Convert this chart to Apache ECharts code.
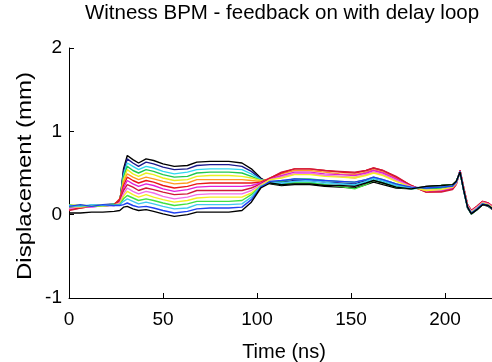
<!DOCTYPE html>
<html>
<head>
<meta charset="utf-8">
<script src="https://cdn.jsdelivr.net/npm/echarts@6/dist/echarts.min.js"></script>
<style>html,body{margin:0;padding:0;background:#fff}#c{width:492px;height:362px}</style>
</head>
<body>
<div id="c"></div>
<script>
var titleText = 'Witness BPM - feedback on with delay loop';
var xName = 'Time (ns)';
var yName = 'Displacement (mm)';
var xTicks = [0, 50, 100, 150, 200, 250];
var yTicks = [-1, 0, 1, 2];

var time = [0,6,12,18,24,27,
  29,31,34,37,41,45,50,56,63,68,75,85,92,97,102,
  107,113,120,128,136,144,152,158,162,167,174,182,190,198,204,206,208,210,212,214,217,220,223,226,232];

var black1 = [0.08,0.09,0.10,0.11,0.12,0.14, 0.55,0.71,0.66,0.62,0.67,0.65,0.61,0.58,0.59,0.63,0.64,0.64,0.62,0.55,0.44, 0.37,0.35,0.36,0.36,0.34,0.33,0.32,0.36,0.39,0.36,0.32,0.31,0.34,0.35,0.36,0.40,0.51,0.28,0.08,0.01,0.06,0.12,0.10,0.05,0.03];
var navy = [0.10,0.10,0.11,0.12,0.13,0.15, 0.52,0.67,0.62,0.58,0.63,0.61,0.57,0.54,0.55,0.59,0.60,0.60,0.58,0.52,0.43, 0.39,0.39,0.41,0.41,0.39,0.38,0.37,0.41,0.44,0.41,0.35,0.32,0.32,0.33,0.35,0.39,0.51,0.29,0.09,0.02,0.07,0.13,0.11,0.06,0.04];
var cyan1 = [0.09,0.11,0.10,0.12,0.12,0.16, 0.48,0.62,0.58,0.54,0.58,0.56,0.52,0.49,0.51,0.54,0.55,0.55,0.54,0.49,0.42, 0.39,0.37,0.39,0.39,0.37,0.37,0.36,0.39,0.42,0.39,0.34,0.31,0.32,0.34,0.35,0.39,0.51,0.29,0.09,0.01,0.06,0.13,0.11,0.06,0.04];
var green1 = [0.12,0.10,0.11,0.11,0.13,0.17, 0.45,0.58,0.53,0.50,0.54,0.52,0.48,0.45,0.46,0.50,0.51,0.51,0.50,0.46,0.41, 0.40,0.40,0.43,0.43,0.41,0.40,0.39,0.42,0.45,0.42,0.37,0.32,0.31,0.32,0.34,0.39,0.52,0.29,0.09,0.02,0.07,0.13,0.11,0.06,0.04];
var yellow1 = [0.11,0.12,0.10,0.12,0.12,0.16, 0.42,0.54,0.49,0.46,0.50,0.48,0.44,0.41,0.42,0.46,0.47,0.47,0.46,0.44,0.41, 0.42,0.46,0.49,0.49,0.47,0.46,0.45,0.48,0.51,0.48,0.41,0.34,0.29,0.30,0.32,0.37,0.52,0.31,0.11,0.04,0.09,0.15,0.13,0.08,0.06];
var orange = [0.07,0.09,0.11,0.11,0.12,0.18, 0.39,0.49,0.45,0.42,0.45,0.43,0.40,0.37,0.38,0.42,0.42,0.42,0.42,0.41,0.40, 0.43,0.49,0.53,0.53,0.51,0.49,0.48,0.51,0.54,0.51,0.44,0.35,0.28,0.28,0.31,0.37,0.53,0.31,0.11,0.05,0.10,0.15,0.13,0.08,0.06];
var red1 = [0.06,0.08,0.10,0.10,0.12,0.19, 0.35,0.45,0.41,0.38,0.41,0.39,0.35,0.32,0.34,0.37,0.38,0.38,0.38,0.38,0.39, 0.44,0.50,0.55,0.55,0.53,0.51,0.50,0.53,0.56,0.53,0.45,0.35,0.27,0.28,0.31,0.37,0.53,0.32,0.12,0.05,0.10,0.16,0.14,0.09,0.07];
var magenta = [0.08,0.09,0.09,0.11,0.11,0.15, 0.32,0.41,0.37,0.34,0.37,0.35,0.31,0.28,0.30,0.33,0.34,0.34,0.34,0.35,0.38, 0.43,0.47,0.51,0.51,0.49,0.48,0.47,0.50,0.53,0.50,0.43,0.34,0.28,0.29,0.32,0.37,0.53,0.31,0.11,0.04,0.09,0.15,0.13,0.08,0.06];
var red2 = [0.05,0.08,0.10,0.10,0.12,0.17, 0.29,0.36,0.33,0.29,0.32,0.30,0.27,0.24,0.25,0.29,0.29,0.29,0.29,0.32,0.37, 0.44,0.51,0.55,0.55,0.53,0.52,0.51,0.53,0.56,0.53,0.46,0.35,0.27,0.27,0.30,0.36,0.53,0.32,0.12,0.05,0.10,0.16,0.14,0.09,0.07];
var pink = [0.07,0.10,0.09,0.11,0.11,0.14, 0.25,0.32,0.28,0.25,0.28,0.26,0.22,0.19,0.21,0.24,0.25,0.25,0.25,0.29,0.36, 0.42,0.45,0.49,0.50,0.47,0.46,0.44,0.48,0.51,0.48,0.41,0.34,0.29,0.30,0.33,0.37,0.52,0.31,0.11,0.04,0.09,0.15,0.13,0.08,0.06];
var yellow2 = [0.10,0.09,0.11,0.10,0.12,0.13, 0.22,0.28,0.24,0.21,0.24,0.21,0.18,0.15,0.17,0.20,0.21,0.21,0.21,0.26,0.35, 0.42,0.44,0.48,0.48,0.46,0.45,0.44,0.47,0.50,0.47,0.40,0.33,0.29,0.30,0.33,0.38,0.52,0.30,0.10,0.03,0.08,0.14,0.12,0.07,0.05];
var green2 = [0.09,0.11,0.10,0.11,0.12,0.12, 0.19,0.23,0.20,0.17,0.19,0.17,0.14,0.11,0.13,0.16,0.16,0.16,0.17,0.24,0.34, 0.38,0.36,0.38,0.38,0.36,0.34,0.31,0.36,0.41,0.38,0.33,0.31,0.33,0.35,0.36,0.40,0.51,0.29,0.09,0.01,0.06,0.13,0.11,0.06,0.04];
var cyan2 = [0.11,0.10,0.12,0.11,0.11,0.12, 0.16,0.19,0.16,0.13,0.15,0.13,0.10,0.07,0.08,0.12,0.12,0.12,0.13,0.21,0.34, 0.39,0.38,0.40,0.41,0.39,0.37,0.35,0.40,0.44,0.41,0.35,0.32,0.33,0.34,0.35,0.39,0.51,0.29,0.09,0.02,0.07,0.13,0.11,0.06,0.04];
var blue = [0.10,0.12,0.10,0.12,0.11,0.11, 0.12,0.14,0.11,0.09,0.10,0.08,0.05,0.02,0.04,0.07,0.08,0.08,0.09,0.18,0.33, 0.40,0.41,0.43,0.42,0.41,0.40,0.39,0.42,0.45,0.42,0.37,0.33,0.32,0.33,0.34,0.39,0.52,0.29,0.09,0.02,0.07,0.13,0.11,0.06,0.04];
var black2 = [0.02,0.02,0.03,0.03,0.04,0.05, 0.09,0.10,0.07,0.05,0.06,0.04,0.01,-0.02,0.00,0.03,0.03,0.03,0.05,0.15,0.32, 0.38,0.36,0.37,0.37,0.35,0.35,0.34,0.38,0.41,0.38,0.33,0.31,0.34,0.35,0.36,0.40,0.51,0.29,0.09,0.01,0.06,0.12,0.11,0.06,0.04];

var seriesList = [
  {name:'black1', data:black1, color:'#000000'},
  {name:'navy', data:navy, color:'#1c1c8e'},
  {name:'cyan1', data:cyan1, color:'#30d8f0'},
  {name:'green1', data:green1, color:'#20c850'},
  {name:'yellow1', data:yellow1, color:'#e8f020'},
  {name:'orange', data:orange, color:'#ff9a20'},
  {name:'red1', data:red1, color:'#e81818'},
  {name:'magenta', data:magenta, color:'#e020d8'},
  {name:'red2', data:red2, color:'#d01838'},
  {name:'pink', data:pink, color:'#f070e8'},
  {name:'yellow2', data:yellow2, color:'#f4f020'},
  {name:'green2', data:green2, color:'#40e040'},
  {name:'cyan2', data:cyan2, color:'#40c8f0'},
  {name:'blue', data:blue, color:'#2040f0'},
  {name:'black2', data:black2, color:'#000000'}
];

var font = "'Liberation Sans', Arial, Helvetica, sans-serif";
var chart = echarts.init(document.getElementById('c'), null, {renderer:'canvas'});
chart.setOption({
  animation: false,
  backgroundColor: '#ffffff',
  graphic: [
    {type:'text', x: 282, y: 3, style:{text:titleText, fill:'#000', font:'20.5px ' + font, textAlign:'center', textVerticalAlign:'top'}},
    {type:'text', x: 284, y: 342, style:{text:xName, fill:'#000', font:'20px ' + font, textAlign:'center', textVerticalAlign:'top'}},
    {type:'text', x: 25, y: 176, rotation: Math.PI / 2, scaleX: 1.2, style:{text:yName, fill:'#000', font:'20px ' + font, textAlign:'center', textVerticalAlign:'middle'}}
  ],
  grid: {left:69, top:48, width:470, height:250, containLabel:false, outerBoundsMode:'none'},
  xAxis: {
    type:'value', min:xTicks[0], max:xTicks[xTicks.length-1], interval:50,
    axisLine:{show:true, onZero:false, lineStyle:{color:'#000', width:1}},
    axisTick:{show:true, inside:true, length:5, lineStyle:{color:'#000'}},
    axisLabel:{color:'#000', fontSize:19, fontFamily:font, margin:12},
    splitLine:{show:false}
  },
  yAxis: {
    type:'value', min:yTicks[0], max:yTicks[yTicks.length-1], interval:1,
    axisLine:{show:true, onZero:false, lineStyle:{color:'#000', width:1}},
    axisTick:{show:true, inside:true, length:5, lineStyle:{color:'#000'}},
    axisLabel:{color:'#000', fontSize:19, fontFamily:font, margin:7},
    splitLine:{show:false}
  },
  series: seriesList.map(function(s){
    return {
      name:s.name, type:'line', showSymbol:false, symbol:'none', smooth:false,
      lineStyle:{color:s.color, width:1.4},
      data: time.map(function(t, i){ return [t, s.data[i]]; })
    };
  })
});
</script>
</body>
</html>
